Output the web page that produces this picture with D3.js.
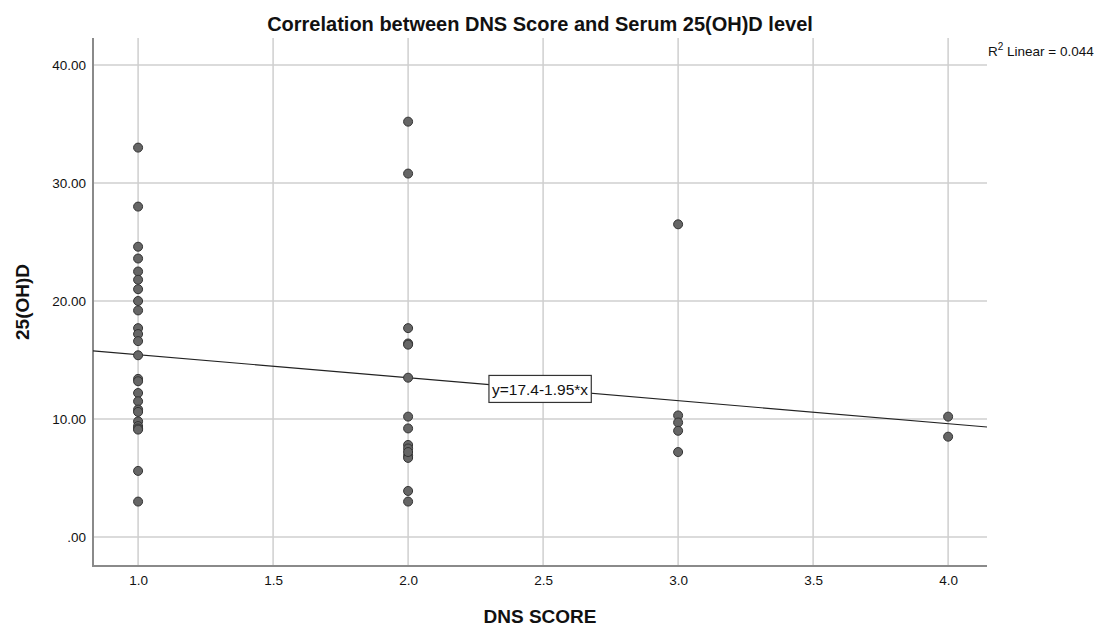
<!DOCTYPE html>
<html>
<head>
    <script src="https://cdnjs.cloudflare.com/ajax/libs/d3/7.8.5/d3.min.js"></script>
    <style>
        body { margin: 0; background: #fff; }
        text { font-family: "Liberation Sans", Arial, sans-serif; fill: #111; }
        .grid line { stroke: #cfcfcf; stroke-width: 1.5px; }
        .axis-line { stroke: #8a8a8a; stroke-width: 2px; }
        .tick-label { font-size: 13.5px; }
        .dot { fill: #666; stroke: #333; stroke-width: 1px; }
    </style>
</head>
<body>
    <div id="chart"></div>
    <script>
        // DNS score for each case and its serum 25(OH)D value
        const dnsScore = [
            1, 1, 1, 1, 1, 1, 1, 1, 1, 1, 1, 1, 1, 1, 1, 1, 1, 1, 1, 1, 1, 1, 1, 1, 1,
            2, 2, 2, 2, 2, 2, 2, 2, 2, 2, 2, 2, 2, 2, 2,
            3, 3, 3, 3, 3,
            4, 4
        ];
        const vitD = [
            33.0, 28.0, 24.6, 23.6, 22.5, 21.8, 21.0, 20.0, 19.2, 17.7, 17.2, 16.6, 15.4,
            13.4, 13.2, 12.2, 11.5, 10.8, 10.6, 9.8, 9.4, 9.2, 9.1, 5.6, 3.0,
            35.2, 30.8, 17.7, 16.4, 16.3, 13.5, 10.2, 9.2, 7.8, 7.5, 6.9, 6.7, 3.9, 3.0, 7.2,
            26.5, 10.3, 9.7, 9.0, 7.2,
            10.2, 8.5
        ];
        const xTicks = [1.0, 1.5, 2.0, 2.5, 3.0, 3.5, 4.0];
        const yTicks = [0, 10, 20, 30, 40];
        const fitIntercept = 17.4;
        const fitSlope = -1.95;
        const rSquared = 0.044;

        const width = 1105, height = 628;
        const margin = { top: 38, right: 118, bottom: 62, left: 93 };

        const svg = d3.select("#chart").append("svg")
            .attr("width", width)
            .attr("height", height);

        const x = d3.scaleLinear()
            .domain([0.833, 4.144])
            .range([margin.left, width - margin.right]);
        const y = d3.scaleLinear()
            .domain([-2.46, 42.29])
            .range([height - margin.bottom, margin.top]);

        // grid
        const grid = svg.append("g").attr("class", "grid");
        grid.selectAll(".h").data(yTicks).join("line")
            .attr("x1", x.range()[0]).attr("x2", x.range()[1])
            .attr("y1", d => y(d)).attr("y2", d => y(d));
        grid.selectAll(".v").data(xTicks).join("line")
            .attr("x1", d => x(d)).attr("x2", d => x(d))
            .attr("y1", y.range()[0]).attr("y2", y.range()[1]);

        // axes (no tick marks, just labels)
        const yAxis = svg.append("g")
            .attr("transform", `translate(${margin.left},0)`)
            .call(d3.axisLeft(y).tickValues(yTicks).tickSize(0).tickPadding(7)
                .tickFormat(d => d === 0 ? ".00" : d3.format(".2f")(d)));
        const xAxis = svg.append("g")
            .attr("transform", `translate(0,${height - margin.bottom})`)
            .call(d3.axisBottom(x).tickValues(xTicks).tickSize(0).tickPadding(9)
                .tickFormat(d3.format(".1f")));
        [xAxis, yAxis].forEach(g => {
            g.select(".domain").remove();
            g.selectAll("text").attr("class", "tick-label")
                .style("font-family", "'Liberation Sans', Arial, sans-serif")
                .attr("fill", "#111");
        });

        svg.append("line").attr("class", "axis-line")
            .attr("x1", margin.left).attr("x2", margin.left)
            .attr("y1", margin.top).attr("y2", height - margin.bottom + 1);
        svg.append("line").attr("class", "axis-line")
            .attr("x1", margin.left - 1).attr("x2", width - margin.right)
            .attr("y1", height - margin.bottom).attr("y2", height - margin.bottom);

        // fit line
        const [x0, x1] = x.domain();
        const fit = v => fitIntercept + fitSlope * v;
        svg.append("line")
            .attr("x1", x(x0)).attr("y1", y(fit(x0)))
            .attr("x2", x(x1)).attr("y2", y(fit(x1)))
            .attr("stroke", "#222").attr("stroke-width", 1.2);

        // points
        svg.append("g").selectAll("circle")
            .data(dnsScore.map((d, i) => [d, vitD[i]]))
            .join("circle")
            .attr("class", "dot")
            .attr("cx", d => x(d[0]))
            .attr("cy", d => y(d[1]))
            .attr("r", 4.5);

        // equation label on the line
        const midX = (x0 + x1) / 2;
        const eq = svg.append("g")
            .attr("transform", `translate(${x(midX)},${y(fit(midX))})`);
        const eqText = eq.append("text")
            .attr("text-anchor", "middle")
            .attr("dy", "0.36em")
            .style("font-size", "15.5px")
            .text(`y=${fitIntercept}${fitSlope < 0 ? "-" : "+"}${Math.abs(fitSlope)}*x`);
        const bb = eqText.node().getBBox();
        eq.insert("rect", "text")
            .attr("x", bb.x - 3).attr("y", -13.5)
            .attr("width", bb.width + 6).attr("height", 27)
            .attr("fill", "#fff").attr("stroke", "#333").attr("stroke-width", 1.2);

        // R squared note
        const r2 = svg.append("text")
            .attr("x", width - margin.right + 1)
            .attr("y", 56)
            .style("font-size", "13.5px");
        r2.append("tspan").text("R");
        r2.append("tspan").attr("dy", -6).style("font-size", "10px").text("2");
        r2.append("tspan").attr("dy", 6).text(` Linear = ${rSquared.toFixed(3)}`);

        // titles
        svg.append("text")
            .attr("x", (margin.left + width - margin.right) / 2)
            .attr("y", 31)
            .attr("text-anchor", "middle")
            .style("font-size", "20px").style("font-weight", "bold")
            .text("Correlation between DNS Score and Serum 25(OH)D level");

        svg.append("text")
            .attr("x", (margin.left + width - margin.right) / 2)
            .attr("y", 623)
            .attr("text-anchor", "middle")
            .style("font-size", "19px").style("font-weight", "bold")
            .text("DNS SCORE");

        svg.append("text")
            .attr("transform", `translate(29,${(margin.top + height - margin.bottom) / 2}) rotate(-90)`)
            .attr("text-anchor", "middle")
            .style("font-size", "19px").style("font-weight", "bold")
            .text("25(OH)D");
    </script>
</body>
</html>
